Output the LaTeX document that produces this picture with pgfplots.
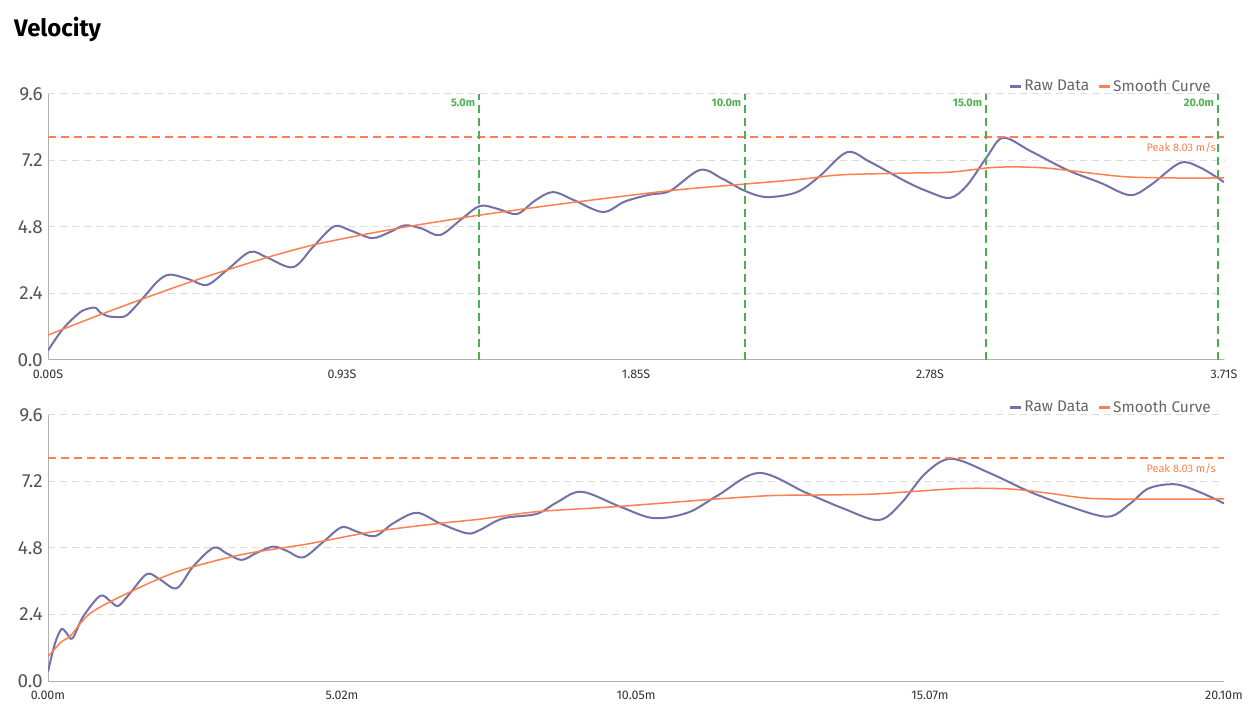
\documentclass[border=0pt]{standalone}
\usepackage{fontspec}
\setmainfont{Fira Sans}
\usepackage{pgfplots}
\pgfplotsset{compat=1.18}
\definecolor{rawc}{HTML}{7470A8}
\definecolor{smoothc}{HTML}{FF7F50}
\definecolor{greenc}{HTML}{4CAF50}
\definecolor{gridc}{HTML}{DCDCDC}
\definecolor{axisc}{HTML}{B0B0B0}
\definecolor{ytc}{HTML}{555555}
\definecolor{xtc}{HTML}{333333}
\definecolor{legc}{HTML}{666666}

\pgfplotsset{
  vel/.style={
    scale only axis, width=1176bp, height=266bp,
    ymin=0, ymax=9.6,
    ytick={0,2.4,4.8,7.2,9.6}, yticklabels={0.0,2.4,4.8,7.2,9.6},
    axis x line*=bottom, axis y line*=left,
    axis line style={-, color=axisc, line width=1bp},
    major tick length=0pt,
    ymajorgrids,
    major grid style={color=gridc, line width=1bp, dash pattern=on 7bp off 5bp},
    /pgf/number format/assume math mode=true,
    yticklabel style={font=\fontsize{19}{19}\selectfont, color=ytc, inner sep=0pt, xshift=-5bp},
    xticklabel style={font=\fontsize{12.5}{12.5}\selectfont, color=xtc, inner sep=0pt, yshift=-10bp},
    legend columns=2,
    legend style={at={(axis description cs:1,1)}, anchor=south east, xshift=-11bp, yshift=-1bp,
      draw=none, fill=none, inner sep=0pt,
      font=\fontsize{15.5}{15.5}\selectfont, text=legc,
      /tikz/every even column/.append style={column sep=6bp}},
  }
}

% Top chart: time (s) vs velocity
\pgfplotstableread{
t v
0.000 0.34
0.047 1.12
0.101 1.72
0.133 1.87
0.151 1.88
0.164 1.72
0.189 1.58
0.218 1.55
0.249 1.62
0.300 2.24
0.347 2.85
0.385 3.08
0.448 2.90
0.502 2.71
0.565 3.25
0.637 3.90
0.691 3.70
0.773 3.35
0.836 4.08
0.902 4.82
0.953 4.68
1.022 4.40
1.079 4.62
1.126 4.86
1.180 4.74
1.237 4.51
1.306 5.10
1.363 5.56
1.420 5.45
1.480 5.27
1.536 5.75
1.593 6.06
1.663 5.75
1.751 5.34
1.820 5.72
1.899 5.97
1.962 6.10
2.057 6.86
2.126 6.55
2.199 6.10
2.268 5.88
2.363 6.06
2.436 6.65
2.521 7.50
2.593 7.15
2.710 6.42
2.783 6.05
2.846 5.85
2.899 6.30
2.962 7.33
3.013 8.02
3.098 7.55
3.215 6.86
3.319 6.40
3.413 5.95
3.477 6.30
3.571 7.11
3.634 6.95
3.710 6.42
}\toprawtable

\pgfplotstableread{
t v
0.000 0.90
0.145 1.55
0.290 2.17
0.432 2.75
0.565 3.25
0.700 3.73
0.836 4.15
0.984 4.50
1.133 4.81
1.252 5.03
1.363 5.23
1.584 5.58
1.805 5.90
1.994 6.15
2.199 6.35
2.372 6.52
2.499 6.68
2.688 6.74
2.846 6.78
2.962 6.93
3.044 6.97
3.145 6.93
3.234 6.82
3.391 6.62
3.540 6.57
3.710 6.57
}\topsmoothtable

% Bottom chart: distance (m) vs velocity
\pgfplotstableread{
d v
0.00 0.34
0.12 1.36
0.23 1.87
0.32 1.72
0.42 1.54
0.60 2.32
0.89 3.07
1.06 2.89
1.20 2.71
1.40 3.16
1.69 3.86
1.91 3.67
2.20 3.35
2.48 4.13
2.83 4.81
3.05 4.61
3.31 4.37
3.57 4.63
3.85 4.85
4.08 4.70
4.36 4.46
4.71 5.03
5.02 5.55
5.28 5.39
5.59 5.23
5.90 5.69
6.30 6.07
6.70 5.69
7.16 5.33
7.38 5.45
7.78 5.87
8.35 6.03
8.70 6.45
9.12 6.83
9.78 6.29
10.35 5.88
10.94 6.08
11.45 6.70
12.15 7.51
12.95 6.80
13.60 6.22
14.20 5.81
14.58 6.41
15.00 7.50
15.44 8.02
16.10 7.50
16.78 6.83
17.47 6.29
18.12 5.93
18.50 6.41
18.81 6.95
19.26 7.10
19.67 6.83
20.10 6.41
}\botrawtable

\pgfplotstableread{
d v
0.00 0.88
0.23 1.42
0.38 1.62
0.72 2.44
1.35 3.16
2.20 3.94
3.28 4.55
4.42 4.94
5.56 5.39
6.70 5.69
7.38 5.84
8.35 6.11
9.69 6.29
11.37 6.56
12.34 6.69
13.08 6.71
14.03 6.74
14.72 6.83
15.62 6.95
16.44 6.93
17.13 6.77
17.81 6.59
18.85 6.56
20.10 6.57
}\botsmoothtable

\begin{document}
\begin{tikzpicture}
\useasboundingbox[fill=white] (0,0) rectangle (1258bp,717bp);
\node[anchor=west, font=\fontsize{24}{24}\selectfont\bfseries, text=black, inner sep=0pt] at (14bp,688bp) {Velocity};

% ---------------- Top axis ----------------
\begin{axis}[vel,
  at={(48bp,357bp)}, anchor=south west,
  xmin=0, xmax=3.71,
  xtick={0,0.9275,1.855,2.7825,3.71},
  xticklabels={0.00S,0.93S,1.85S,2.78S,3.71S},
  legend image code/.code={\draw[#1, solid, line width=3bp] (0bp,0bp) -- (11bp,0bp);},
]
\addplot[rawc, line width=2bp, smooth, tension=0.55] table[x=t,y=v] {\toprawtable};
\addlegendentry{Raw Data}
\addplot[smoothc, line width=1.5bp, smooth] table[x=t,y=v] {\topsmoothtable};
\addlegendentry{Smooth Curve}
\addplot[smoothc, line width=2bp, dash pattern=on 8bp off 5bp, forget plot] coordinates {(0,8.03) (3.71,8.03)};
\addplot[greenc, line width=2bp, dash pattern=on 8bp off 5bp, forget plot] coordinates {(1.3605,0) (1.3605,9.6)};
\addplot[greenc, line width=2bp, dash pattern=on 8bp off 5bp, forget plot] coordinates {(2.200,0) (2.200,9.6)};
\addplot[greenc, line width=2bp, dash pattern=on 8bp off 5bp, forget plot] coordinates {(2.960,0) (2.960,9.6)};
\addplot[greenc, line width=2bp, dash pattern=on 8bp off 5bp, forget plot] coordinates {(3.6915,0) (3.6915,9.6)};
\node[anchor=east, text=greenc, font=\fontsize{11}{11}\selectfont\bfseries, inner sep=0pt, xshift=-4bp, yshift=-9bp] at (axis cs:1.3605,9.6) {5.0m};
\node[anchor=east, text=greenc, font=\fontsize{11}{11}\selectfont\bfseries, inner sep=0pt, xshift=-4bp, yshift=-9bp] at (axis cs:2.200,9.6) {10.0m};
\node[anchor=east, text=greenc, font=\fontsize{11}{11}\selectfont\bfseries, inner sep=0pt, xshift=-4bp, yshift=-9bp] at (axis cs:2.960,9.6) {15.0m};
\node[anchor=east, text=greenc, font=\fontsize{11}{11}\selectfont\bfseries, inner sep=0pt, xshift=-4bp, yshift=-9bp] at (axis cs:3.6915,9.6) {20.0m};
\node[anchor=east, text=smoothc, font=\fontsize{11}{11}\selectfont, inner sep=0pt, xshift=-8bp, yshift=-10bp] at (axis cs:3.71,8.03) {Peak 8.03 m/s};
\end{axis}

% ---------------- Bottom axis ----------------
\begin{axis}[vel,
  at={(48bp,36bp)}, anchor=south west,
  xmin=0, xmax=20.10,
  xtick={0,5.025,10.05,15.075,20.10},
  xticklabels={0.00m,5.02m,10.05m,15.07m,20.10m},
  legend image code/.code={\draw[#1, solid, line width=3bp] (0bp,0bp) -- (11bp,0bp);},
]
\addplot[rawc, line width=2bp, smooth, tension=0.55] table[x=d,y=v] {\botrawtable};
\addlegendentry{Raw Data}
\addplot[smoothc, line width=1.5bp, smooth] table[x=d,y=v] {\botsmoothtable};
\addlegendentry{Smooth Curve}
\addplot[smoothc, line width=2bp, dash pattern=on 8bp off 5bp, forget plot] coordinates {(0,8.03) (20.10,8.03)};
\node[anchor=east, text=smoothc, font=\fontsize{11}{11}\selectfont, inner sep=0pt, xshift=-8bp, yshift=-10bp] at (axis cs:20.10,8.03) {Peak 8.03 m/s};
\end{axis}
\end{tikzpicture}
\end{document}
